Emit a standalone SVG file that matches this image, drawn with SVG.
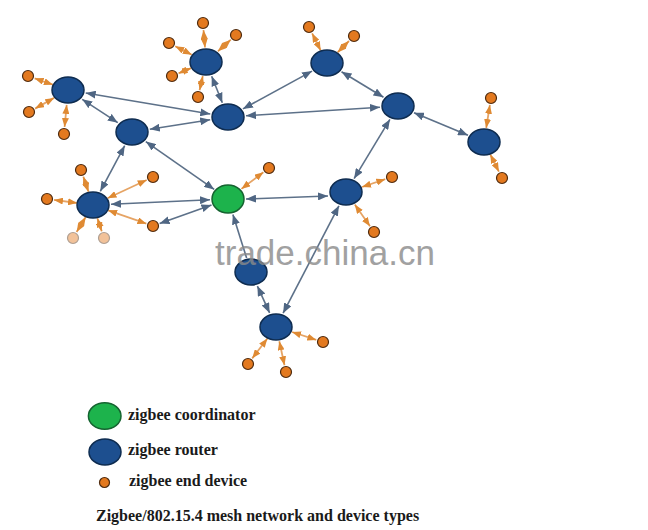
<svg xmlns="http://www.w3.org/2000/svg" width="648" height="530" viewBox="0 0 648 530">
<defs>
<marker id="ab" viewBox="0 0 10 8" refX="10" refY="4" markerWidth="10" markerHeight="8" markerUnits="userSpaceOnUse" orient="auto-start-reverse"><path d="M0,0 L10,4 L0,8 z" fill="#4f6683"/></marker>
<marker id="ao" viewBox="0 0 9 7" refX="9" refY="3.5" markerWidth="9" markerHeight="7" markerUnits="userSpaceOnUse" orient="auto-start-reverse"><path d="M0,0 L9,3.5 L0,7 z" fill="#df8a33"/></marker>
</defs>
<style>
.b{stroke:#5d7189;stroke-width:1.6;fill:none;marker-start:url(#ab);marker-end:url(#ab)}
.be{stroke:#5d7189;stroke-width:1.6;fill:none;marker-end:url(#ab)}
.o{stroke:#e6a465;stroke-width:1.8;fill:none;marker-start:url(#ao);marker-end:url(#ao)}
.r{fill:#1d4f8f;stroke:#0e2c50;stroke-width:1.5}
.c{fill:#1db34c;stroke:#156330;stroke-width:1.5}
.e{fill:#e3791f;stroke:#4e2b0f;stroke-width:1.2}
.f{opacity:0.45}
.t{font-family:"Liberation Serif","Times New Roman",serif;font-weight:bold;font-size:16px;fill:#1a1a1a}
.w{font-family:"Liberation Sans",Arial,sans-serif;font-size:35px;fill:#8a8a8a;opacity:0.8}
</style>
<rect width="648" height="530" fill="#ffffff"/>
<g id="connectors">
<line class="b" x1="85.7" y1="93" x2="210.3" y2="114"/>
<line class="b" x1="82.2" y1="99.3" x2="117.8" y2="122.7"/>
<line class="b" x1="149.8" y1="129.2" x2="210.2" y2="119.8"/>
<line class="b" x1="211.7" y1="76.2" x2="222.3" y2="102.8"/>
<line class="b" x1="242.9" y1="108.9" x2="312.1" y2="71.1"/>
<line class="b" x1="341.5" y1="71.8" x2="383.5" y2="97.2"/>
<line class="b" x1="246" y1="115.8" x2="380" y2="107.2"/>
<line class="b" x1="414" y1="112.7" x2="468" y2="135.3"/>
<line class="b" x1="124.7" y1="145.7" x2="100.3" y2="191.3"/>
<line class="b" x1="145.8" y1="141.6" x2="214.2" y2="189.4"/>
<line class="b" x1="111" y1="204.2" x2="210" y2="199.8"/>
<line class="b" x1="211.5" y1="204.9" x2="159.6" y2="223.6"/>
<line class="b" x1="328" y1="196" x2="246" y2="199"/>
<line class="b" x1="389.9" y1="119.4" x2="354.1" y2="178.6"/>
<line class="be" x1="246.6" y1="258" x2="232.9" y2="214.5"/>
<line class="b" x1="257.4" y1="286.1" x2="269.6" y2="312.9"/>
<line class="b" x1="283.1" y1="313.2" x2="338.9" y2="205.8"/>
<line class="o" x1="52.9" y1="84.7" x2="34.6" y2="78.3"/>
<line class="o" x1="54.1" y1="97.9" x2="35.1" y2="108.6"/>
<line class="o" x1="66.7" y1="104.9" x2="64.6" y2="127"/>
<line class="o" x1="205" y1="47.5" x2="203.5" y2="30"/>
<line class="o" x1="217.9" y1="51.3" x2="230.8" y2="39.7"/>
<line class="o" x1="191.8" y1="54.7" x2="175.2" y2="46.2"/>
<line class="o" x1="191.2" y1="68.1" x2="178.5" y2="73.3"/>
<line class="o" x1="202.8" y1="76" x2="199.6" y2="90.2"/>
<line class="o" x1="320.7" y1="50.5" x2="312.1" y2="33.3"/>
<line class="o" x1="337.6" y1="52.4" x2="349" y2="41"/>
<line class="o" x1="486.2" y1="128" x2="489.9" y2="104.9"/>
<line class="o" x1="490.3" y1="154.5" x2="498.9" y2="171.7"/>
<line class="o" x1="88.5" y1="191.8" x2="83.3" y2="176.6"/>
<line class="o" x1="107.5" y1="198.2" x2="146.7" y2="180"/>
<line class="o" x1="77" y1="203" x2="54" y2="199.9"/>
<line class="o" x1="108.1" y1="210.3" x2="146.4" y2="223.7"/>
<line class="o" x1="85.7" y1="217" x2="76.6" y2="232"/>
<line class="o" x1="97.4" y1="218.3" x2="101.8" y2="231.4"/>
<line class="o" x1="241.4" y1="188.9" x2="263.4" y2="172.2"/>
<line class="o" x1="362" y1="187" x2="385.3" y2="179.2"/>
<line class="o" x1="354.8" y1="204.5" x2="370" y2="226.3"/>
<line class="o" x1="267.4" y1="338.5" x2="252.2" y2="358.4"/>
<line class="o" x1="279.3" y1="341.3" x2="284.5" y2="365.2"/>
<line class="o" x1="292" y1="332" x2="316.3" y2="339.9"/>
</g>
<g id="router-1"><ellipse class="r" cx="68" cy="90" rx="16" ry="13"/></g>
<g id="router-2"><ellipse class="r" cx="206" cy="62" rx="16" ry="13"/></g>
<g id="router-3"><ellipse class="r" cx="228" cy="117" rx="16" ry="13"/></g>
<g id="router-4"><ellipse class="r" cx="327" cy="63" rx="16" ry="13"/></g>
<g id="router-5"><ellipse class="r" cx="398" cy="106" rx="16" ry="13"/></g>
<g id="router-6"><ellipse class="r" cx="484" cy="142" rx="16" ry="13"/></g>
<g id="router-7"><ellipse class="r" cx="132" cy="132" rx="16" ry="13"/></g>
<g id="router-8"><ellipse class="r" cx="93" cy="205" rx="16" ry="13"/></g>
<g id="router-9"><ellipse class="r" cx="346" cy="192" rx="16" ry="13"/></g>
<g id="router-10"><ellipse class="r" cx="251" cy="272" rx="16" ry="13"/></g>
<g id="router-11"><ellipse class="r" cx="276" cy="327" rx="16" ry="13"/></g>
<g id="coordinator"><ellipse class="c" cx="228" cy="199" rx="16" ry="14"/></g>
<g id="end-1"><circle class="e" cx="28" cy="76" r="5.5"/></g>
<g id="end-2"><circle class="e" cx="29" cy="112" r="5.5"/></g>
<g id="end-3"><circle class="e" cx="64" cy="134" r="5.5"/></g>
<g id="end-4"><circle class="e" cx="203" cy="23" r="5.5"/></g>
<g id="end-5"><circle class="e" cx="236" cy="35" r="5.5"/></g>
<g id="end-6"><circle class="e" cx="169" cy="43" r="5.5"/></g>
<g id="end-7"><circle class="e" cx="172" cy="76" r="5.5"/></g>
<g id="end-8"><circle class="e" cx="198" cy="97" r="5.5"/></g>
<g id="end-9"><circle class="e" cx="309" cy="27" r="5.5"/></g>
<g id="end-10"><circle class="e" cx="354" cy="36" r="5.5"/></g>
<g id="end-11"><circle class="e" cx="491" cy="98" r="5.5"/></g>
<g id="end-12"><circle class="e" cx="502" cy="178" r="5.5"/></g>
<g id="end-13"><circle class="e" cx="81" cy="170" r="5.5"/></g>
<g id="end-14"><circle class="e" cx="153" cy="177" r="5.5"/></g>
<g id="end-15"><circle class="e" cx="47" cy="199" r="5.5"/></g>
<g id="end-16"><circle class="e" cx="153" cy="226" r="5.5"/></g>
<g id="end-17" class="f"><circle class="e" cx="73" cy="238" r="5.5"/></g>
<g id="end-18" class="f"><circle class="e" cx="104" cy="238" r="5.5"/></g>
<g id="end-19"><circle class="e" cx="269" cy="168" r="5.5"/></g>
<g id="end-20"><circle class="e" cx="392" cy="177" r="5.5"/></g>
<g id="end-21"><circle class="e" cx="374" cy="232" r="5.5"/></g>
<g id="end-22"><circle class="e" cx="248" cy="364" r="5.5"/></g>
<g id="end-23"><circle class="e" cx="286" cy="372" r="5.5"/></g>
<g id="end-24"><circle class="e" cx="323" cy="342" r="5.5"/></g>
<text class="w" x="215" y="265">trade.china.cn</text>
<g id="legend">
<ellipse class="c" cx="104.7" cy="416" rx="16.3" ry="13.3"/>
<text class="t" x="128" y="420">zigbee coordinator</text>
<ellipse class="r" cx="105" cy="452" rx="16" ry="13"/>
<text class="t" x="128" y="455">zigbee router</text>
<circle class="e" cx="104.5" cy="482.5" r="5"/>
<text class="t" x="129" y="486">zigbee end device</text>
<text class="t" x="96" y="521">Zigbee/802.15.4 mesh network and device types</text>
</g>
</svg>
